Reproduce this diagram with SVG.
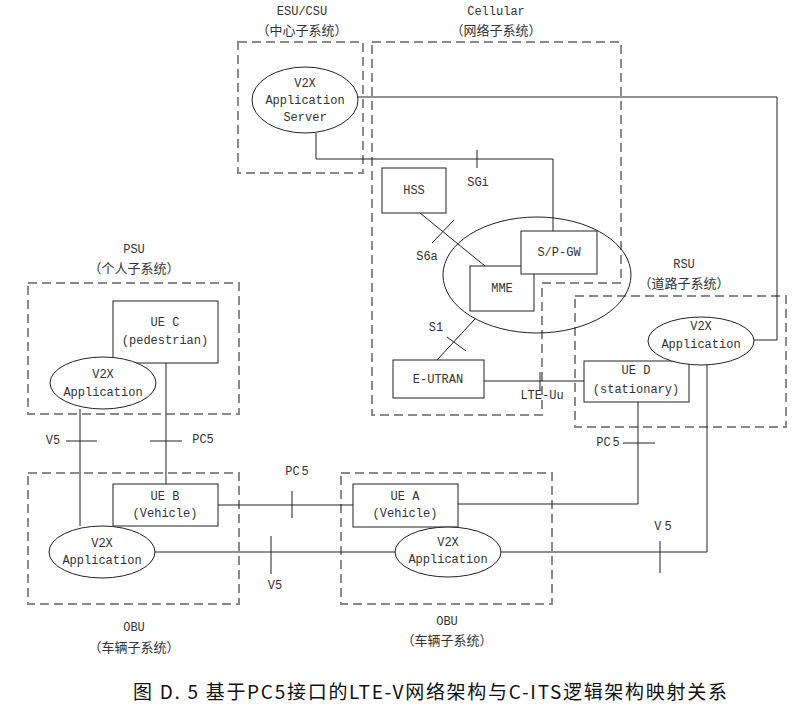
<svg xmlns="http://www.w3.org/2000/svg" width="794" height="715" viewBox="0 0 794 715">
<style>
.sub{fill:none;stroke:#8a8a8a;stroke-width:2;stroke-dasharray:9 5}
.box{fill:#fff;stroke:#222;stroke-width:1}
.ell{fill:#fff;stroke:#222;stroke-width:1}
.ln{fill:none;stroke:#222;stroke-width:1}
.t{font-family:"Liberation Mono","DejaVu Sans Mono",monospace;font-size:12px;fill:#333;text-anchor:middle;dominant-baseline:central}
.c{font-family:"Noto Sans CJK SC","Noto Sans CJK JP",sans-serif;font-size:13px;fill:#333;text-anchor:middle;dominant-baseline:central}
.title{font-family:"Noto Sans CJK SC","Noto Sans CJK JP",sans-serif;font-size:19px;fill:#111}
</style>
<rect width="794" height="715" fill="#fff"/>

<g id="subsystems">
<g id="esu"><rect class="sub" x="238" y="42" width="125" height="131"/>
<text class="t" x="302" y="12">ESU/CSU</text><text class="c" x="302" y="29">（中心子系统）</text></g>
<g id="cellular"><polygon class="sub" points="372,42 621,42 621,283 542,283 542,415 372,415"/>
<text class="t" x="496" y="12">Cellular</text><text class="c" x="496" y="29">（网络子系统）</text></g>
<g id="psu"><rect class="sub" x="28" y="283" width="211" height="131"/>
<text class="t" x="134" y="250">PSU</text><text class="c" x="134" y="267">（个人子系统）</text></g>
<g id="rsu"><rect class="sub" x="575" y="296" width="211" height="131"/>
<text class="t" x="684" y="265">RSU</text><text class="c" x="684" y="282">（道路子系统）</text></g>
<g id="obu1"><rect class="sub" x="28" y="473" width="211" height="131"/>
<text class="t" x="134" y="628">OBU</text><text class="c" x="134" y="646">（车辆子系统）</text></g>
<g id="obu2"><rect class="sub" x="341" y="473" width="211" height="131"/>
<text class="t" x="447" y="622">OBU</text><text class="c" x="447" y="639">（车辆子系统）</text></g>
</g>

<g id="epc"><ellipse fill="none" stroke="#222" stroke-width="1" cx="537" cy="275" rx="94" ry="58"/></g>

<g id="connectors">
<polyline class="ln" points="358,97 777,97 777,340 754,340"/>
<polyline class="ln" points="316,133 316,159 553,159 553,231"/>
<line class="ln" x1="477" y1="150" x2="477" y2="168"/>
<line class="ln" x1="420" y1="213" x2="485" y2="266"/>
<line class="ln" x1="432" y1="243" x2="454" y2="220"/>
<line class="ln" x1="437" y1="360" x2="475" y2="319"/>
<line class="ln" x1="447" y1="337" x2="466" y2="351"/>
<line class="ln" x1="484" y1="381" x2="584" y2="381"/>
<line class="ln" x1="540" y1="372" x2="540" y2="391"/>
<polyline class="ln" points="638,402 638,504 458,504"/>
<line class="ln" x1="623" y1="443" x2="655" y2="443"/>
<polyline class="ln" points="707,365 707,552 501,552"/>
<line class="ln" x1="660" y1="541" x2="660" y2="573"/>
<line class="ln" x1="218" y1="505" x2="353" y2="505"/>
<line class="ln" x1="292" y1="491" x2="292" y2="518"/>
<line class="ln" x1="155" y1="552" x2="395" y2="552"/>
<line class="ln" x1="271" y1="536" x2="271" y2="574"/>
<line class="ln" x1="80" y1="409" x2="80" y2="526"/>
<line class="ln" x1="66" y1="441" x2="97" y2="441"/>
<line class="ln" x1="166" y1="363" x2="166" y2="484"/>
<line class="ln" x1="150" y1="441" x2="182" y2="441"/>
<text class="t" x="478" y="183">SGi</text>
<text class="t" x="427" y="257">S6a</text>
<text class="t" x="436" y="328">S1</text>
<text class="t" x="542" y="396">LTE-Uu</text>
<text class="t" x="608" y="443">PC<tspan dx="2">5</tspan></text>
<text class="t" x="663" y="527">V<tspan dx="3">5</tspan></text>
<text class="t" x="297" y="472">PC<tspan dx="2">5</tspan></text>
<text class="t" x="275" y="586">V5</text>
<text class="t" x="53" y="441">V5</text>
<text class="t" x="203" y="440">PC5</text>
</g>

<g id="server"><ellipse class="ell" cx="305" cy="100" rx="53" ry="33"/>
<text class="t" x="305" y="84">V2X</text><text class="t" x="305" y="101">Application</text><text class="t" x="305" y="118">Server</text></g>
<g id="hss"><rect class="box" x="382" y="168" width="64" height="45"/><text class="t" x="414" y="191">HSS</text></g>
<g id="mme"><rect class="box" x="470" y="266" width="64" height="45"/><text class="t" x="502" y="289">MME</text></g>
<g id="spgw"><rect class="box" x="521" y="231" width="76" height="43"/><text class="t" x="559" y="253">S/P-GW</text></g>
<g id="eutran"><rect class="box" x="393" y="360" width="91" height="38"/><text class="t" x="438" y="380">E-UTRAN</text></g>
<g id="ued"><rect class="box" x="584" y="361" width="105" height="41"/>
<text class="t" x="636" y="371">UE D</text><text class="t" x="636" y="390">(stationary)</text></g>
<g id="rsuapp"><ellipse class="ell" cx="701" cy="341" rx="53" ry="24"/>
<text class="t" x="701" y="327">V2X</text><text class="t" x="701" y="345">Application</text></g>
<g id="uec"><rect class="box" x="113" y="301" width="105" height="62"/>
<text class="t" x="165" y="323">UE C</text><text class="t" x="165" y="341">(pedestrian)</text></g>
<g id="psuapp"><ellipse class="ell" cx="103" cy="383" rx="53" ry="26"/>
<text class="t" x="103" y="375">V2X</text><text class="t" x="103" y="393">Application</text></g>
<g id="ueb"><rect class="box" x="113" y="484" width="105" height="42"/>
<text class="t" x="165" y="497">UE B</text><text class="t" x="165" y="514">(Vehicle)</text></g>
<g id="appb"><ellipse class="ell" cx="102" cy="552" rx="53" ry="26"/>
<text class="t" x="102" y="544">V2X</text><text class="t" x="102" y="561">Application</text></g>
<g id="uea"><rect class="box" x="353" y="484" width="105" height="43"/>
<text class="t" x="405" y="497">UE A</text><text class="t" x="405" y="514">(Vehicle)</text></g>
<g id="appa"><ellipse class="ell" cx="448" cy="552" rx="53" ry="25"/>
<text class="t" x="448" y="543">V2X</text><text class="t" x="448" y="560">Application</text></g>

<text class="title" x="133" y="699" textLength="594" lengthAdjust="spacing">图 D. 5 基于PC5接口的LTE-V网络架构与C-ITS逻辑架构映射关系</text>
</svg>
